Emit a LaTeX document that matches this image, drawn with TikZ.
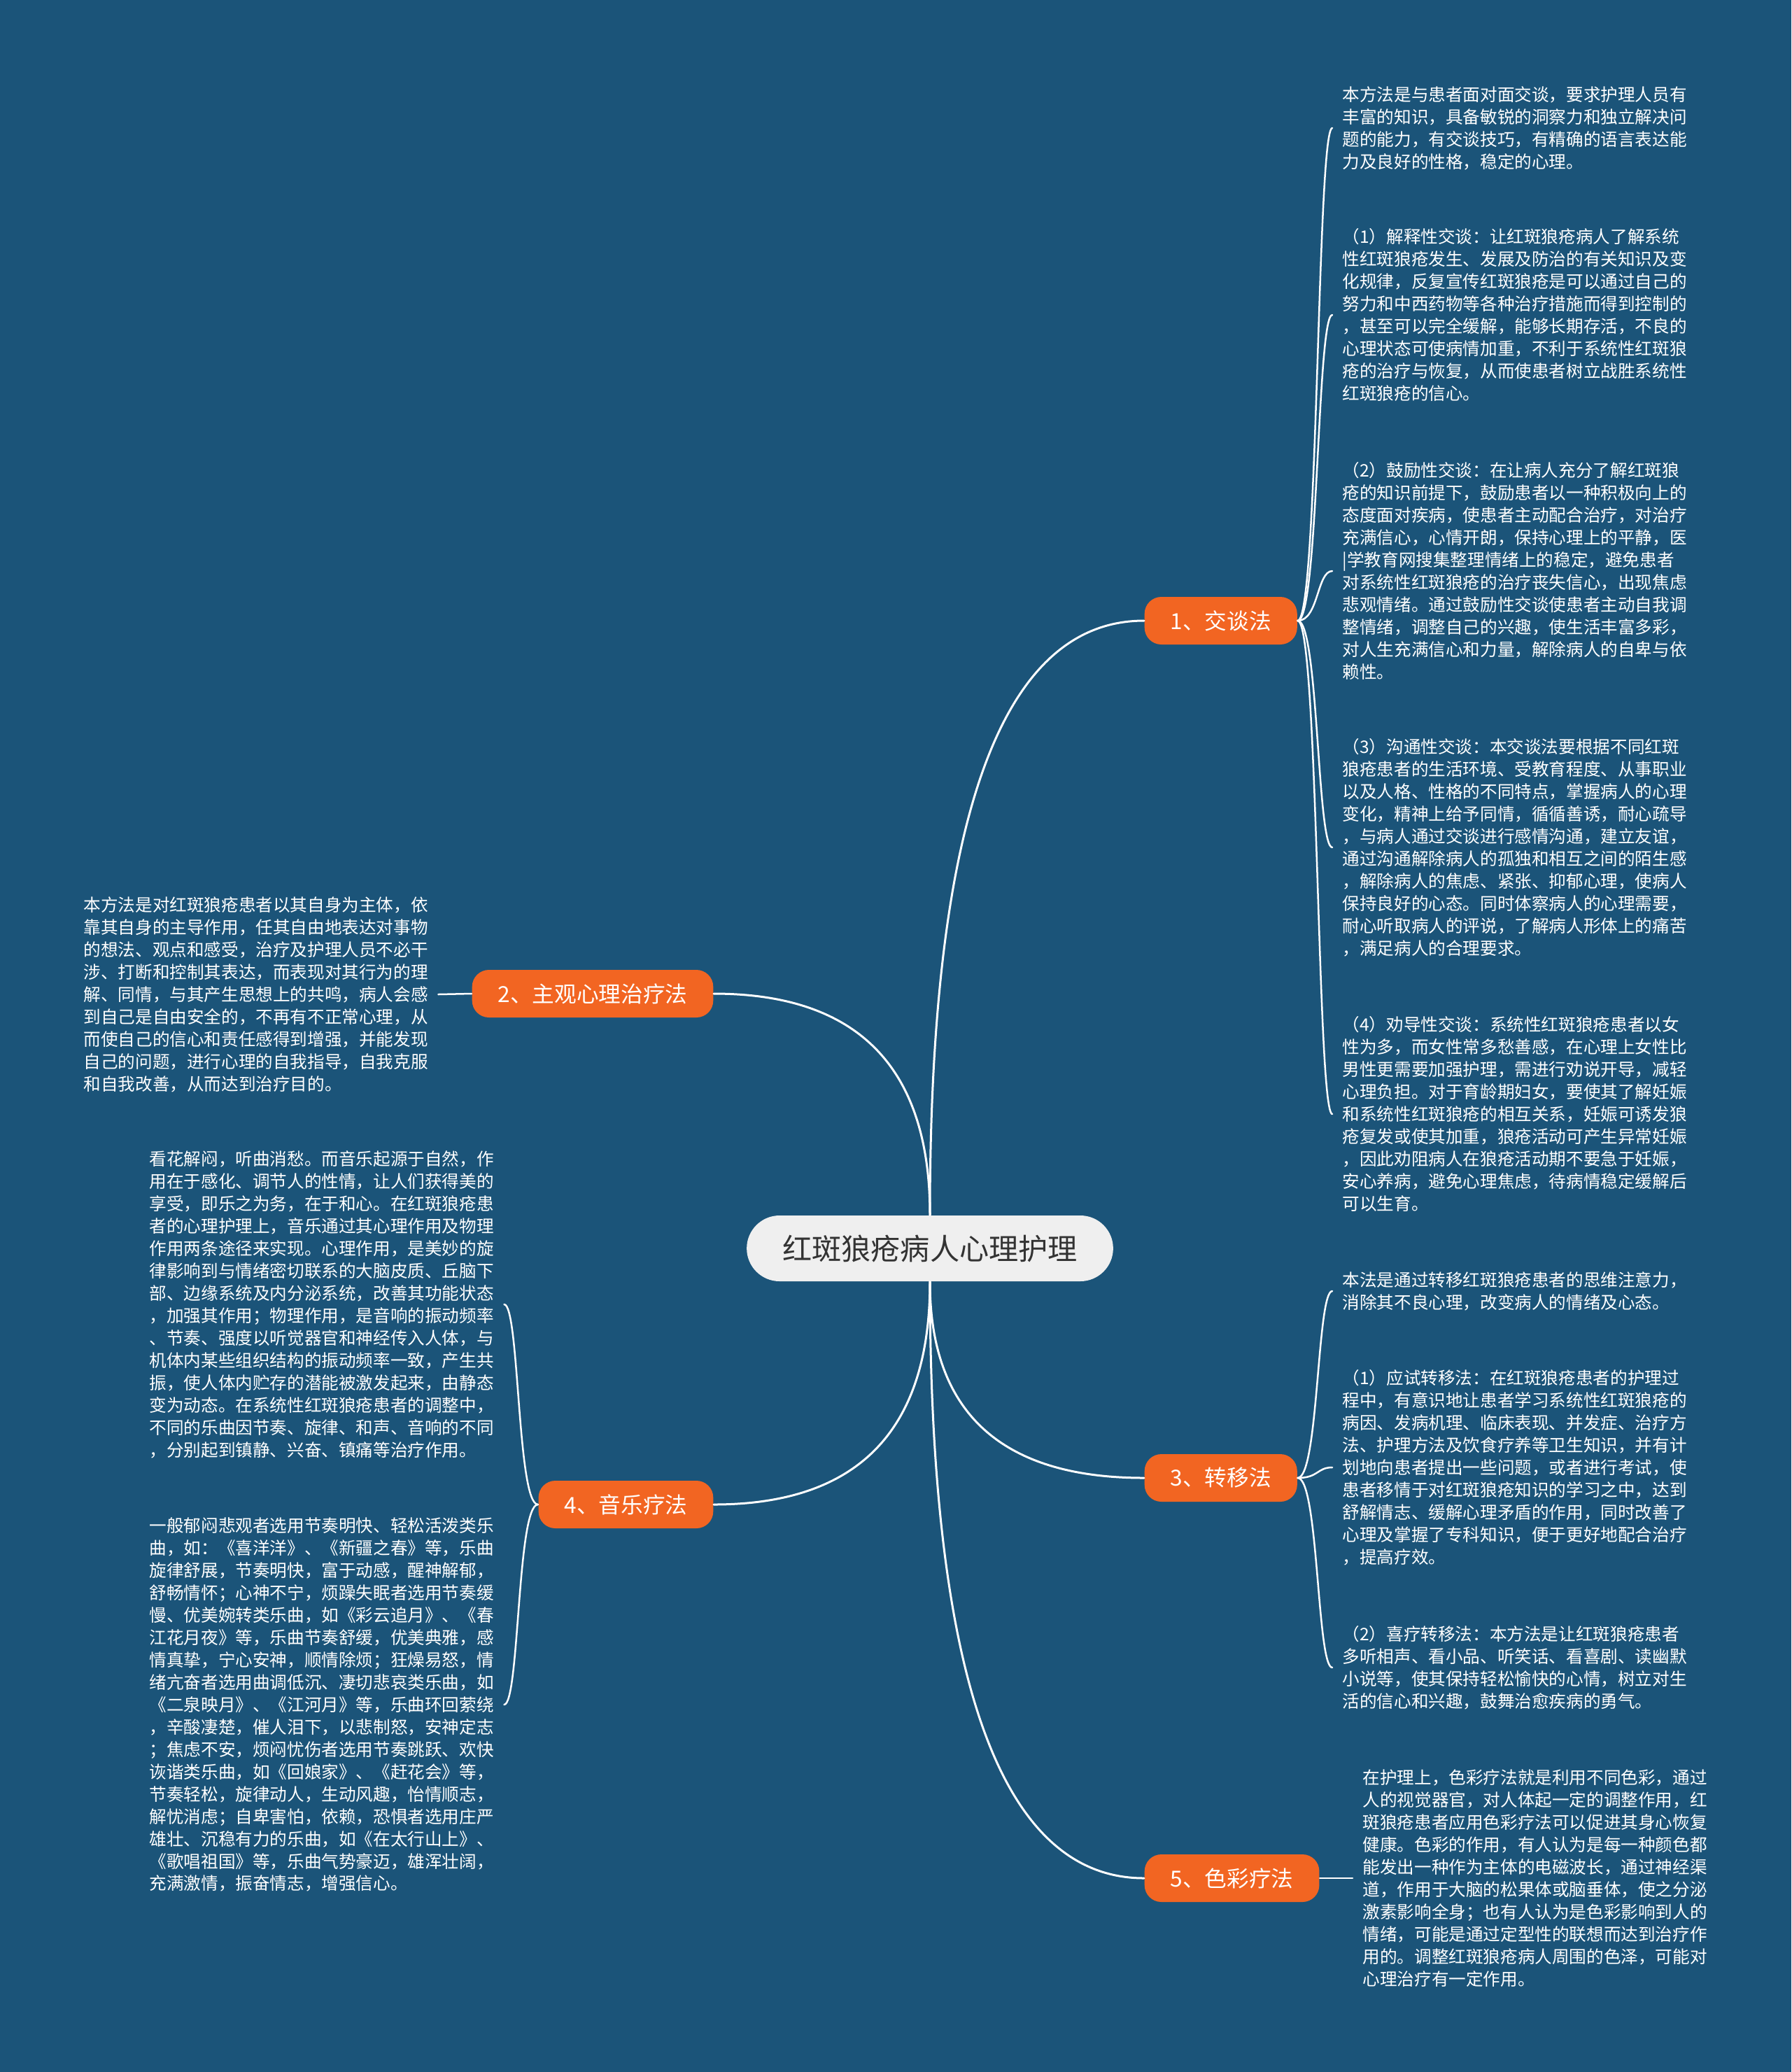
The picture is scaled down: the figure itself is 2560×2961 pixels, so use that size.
\documentclass[tikz,border=0pt]{standalone}
\usepackage{fontspec}
\setmainfont{Noto Sans CJK SC}
\usepackage{tikz}
\definecolor{bgblue}{RGB}{27,84,121}
\definecolor{branchorange}{RGB}{242,101,34}
\definecolor{rootgray}{RGB}{239,239,239}
\definecolor{rootink}{RGB}{51,51,51}

\begin{document}
\begin{tikzpicture}[x=0.1mm,y=-0.1mm,line cap=round]
  \tikzstyle{topic}=[fill=rootgray,text=rootink,rounded corners=4.7mm,minimum height=9.4mm,inner xsep=5.1mm,inner ysep=0pt,font=\fontsize{12pt}{14pt}\selectfont]
  \tikzstyle{branch}=[fill=branchorange,text=white,rounded corners=2.4mm,minimum height=6.8mm,inner xsep=3.7mm,inner ysep=0pt,font=\fontsize{9pt}{11pt}\selectfont]
  \tikzstyle{leaf}=[text=white,align=left,inner xsep=1.4mm,inner ysep=0pt,font=\fontsize{7pt}{9.1pt}\selectfont]
  \tikzstyle{link}=[draw=white,line width=0.3mm]
  \tikzstyle{twig}=[draw=white,line width=0.25mm]

  \useasboundingbox (0,0) rectangle (2560,2961);
  \fill[bgblue] (0,0) rectangle (2560,2961);

  % centre and main branches
  \node[topic]                (root) at (1329,1784) {红斑狼疮病人心理护理};
  \node[branch,anchor=west]   (b1)   at (1635,887)  {1、交谈法};
  \node[branch,anchor=east]   (b2)   at (1020,1420) {2、主观心理治疗法};
  \node[branch,anchor=west]   (b3)   at (1635,2112) {3、转移法};
  \node[branch,anchor=east]   (b4)   at (1020,2150) {4、音乐疗法};
  \node[branch,anchor=west]   (b5)   at (1635,2684) {5、色彩疗法};

  % 1、交谈法
  \node[leaf,anchor=west] (a0) at (1904,183) {本方法是与患者面对面交谈，要求护理人员有\\
丰富的知识，具备敏锐的洞察力和独立解决问\\
题的能力，有交谈技巧，有精确的语言表达能\\
力及良好的性格，稳定的心理。};
  \node[leaf,anchor=west] (a1) at (1904,450) {（1）解释性交谈：让红斑狼疮病人了解系统\\
性红斑狼疮发生、发展及防治的有关知识及变\\
化规律，反复宣传红斑狼疮是可以通过自己的\\
努力和中西药物等各种治疗措施而得到控制的\\
，甚至可以完全缓解，能够长期存活，不良的\\
心理状态可使病情加重，不利于系统性红斑狼\\
疮的治疗与恢复，从而使患者树立战胜系统性\\
红斑狼疮的信心。};
  \node[leaf,anchor=west] (a2) at (1904,816) {（2）鼓励性交谈：在让病人充分了解红斑狼\\
疮的知识前提下，鼓励患者以一种积极向上的\\
态度面对疾病，使患者主动配合治疗，对治疗\\
充满信心，心情开朗，保持心理上的平静，医\\
|学教育网搜集整理情绪上的稳定，避免患者\\
对系统性红斑狼疮的治疗丧失信心，出现焦虑\\
悲观情绪。通过鼓励性交谈使患者主动自我调\\
整情绪，调整自己的兴趣，使生活丰富多彩，\\
对人生充满信心和力量，解除病人的自卑与依\\
赖性。};
  \node[leaf,anchor=west] (a3) at (1904,1211) {（3）沟通性交谈：本交谈法要根据不同红斑\\
狼疮患者的生活环境、受教育程度、从事职业\\
以及人格、性格的不同特点，掌握病人的心理\\
变化，精神上给予同情，循循善诱，耐心疏导\\
，与病人通过交谈进行感情沟通，建立友谊，\\
通过沟通解除病人的孤独和相互之间的陌生感\\
，解除病人的焦虑、紧张、抑郁心理，使病人\\
保持良好的心态。同时体察病人的心理需要，\\
耐心听取病人的评说，了解病人形体上的痛苦\\
，满足病人的合理要求。};
  \node[leaf,anchor=west] (a4) at (1904,1592) {（4）劝导性交谈：系统性红斑狼疮患者以女\\
性为多，而女性常多愁善感，在心理上女性比\\
男性更需要加强护理，需进行劝说开导，减轻\\
心理负担。对于育龄期妇女，要使其了解妊娠\\
和系统性红斑狼疮的相互关系，妊娠可诱发狼\\
疮复发或使其加重，狼疮活动可产生异常妊娠\\
，因此劝阻病人在狼疮活动期不要急于妊娠，\\
安心养病，避免心理焦虑，待病情稳定缓解后\\
可以生育。};

  % 2、主观心理治疗法
  \node[leaf,anchor=west] (s0) at (105,1421) {本方法是对红斑狼疮患者以其自身为主体，依\\
靠其自身的主导作用，任其自由地表达对事物\\
的想法、观点和感受，治疗及护理人员不必干\\
涉、打断和控制其表达，而表现对其行为的理\\
解、同情，与其产生思想上的共鸣，病人会感\\
到自己是自由安全的，不再有不正常心理，从\\
而使自己的信心和责任感得到增强，并能发现\\
自己的问题，进行心理的自我指导，自我克服\\
和自我改善，从而达到治疗目的。};

  % 3、转移法
  \node[leaf,anchor=west] (c0) at (1904,1845) {本法是通过转移红斑狼疮患者的思维注意力，\\
消除其不良心理，改变病人的情绪及心态。};
  \node[leaf,anchor=west] (c1) at (1904,2097) {（1）应试转移法：在红斑狼疮患者的护理过\\
程中，有意识地让患者学习系统性红斑狼疮的\\
病因、发病机理、临床表现、并发症、治疗方\\
法、护理方法及饮食疗养等卫生知识，并有计\\
划地向患者提出一些问题，或者进行考试，使\\
患者移情于对红斑狼疮知识的学习之中，达到\\
舒解情志、缓解心理矛盾的作用，同时改善了\\
心理及掌握了专科知识，便于更好地配合治疗\\
，提高疗效。};
  \node[leaf,anchor=west] (c2) at (1904,2383) {（2）喜疗转移法：本方法是让红斑狼疮患者\\
多听相声、看小品、听笑话、看喜剧、读幽默\\
小说等，使其保持轻松愉快的心情，树立对生\\
活的信心和兴趣，鼓舞治愈疾病的勇气。};

  % 4、音乐疗法
  \node[leaf,anchor=west] (d1) at (199,1864) {看花解闷，听曲消愁。而音乐起源于自然，作\\
用在于感化、调节人的性情，让人们获得美的\\
享受，即乐之为务，在于和心。在红斑狼疮患\\
者的心理护理上，音乐通过其心理作用及物理\\
作用两条途径来实现。心理作用，是美妙的旋\\
律影响到与情绪密切联系的大脑皮质、丘脑下\\
部、边缘系统及内分泌系统，改善其功能状态\\
，加强其作用；物理作用，是音响的振动频率\\
、节奏、强度以听觉器官和神经传入人体，与\\
机体内某些组织结构的振动频率一致，产生共\\
振，使人体内贮存的潜能被激发起来，由静态\\
变为动态。在系统性红斑狼疮患者的调整中，\\
不同的乐曲因节奏、旋律、和声、音响的不同\\
，分别起到镇静、兴奋、镇痛等治疗作用。};
  \node[leaf,anchor=west] (d2) at (199,2436) {一般郁闷悲观者选用节奏明快、轻松活泼类乐\\
曲，如：《喜洋洋》、《新疆之春》等，乐曲\\
旋律舒展，节奏明快，富于动感，醒神解郁，\\
舒畅情怀；心神不宁，烦躁失眠者选用节奏缓\\
慢、优美婉转类乐曲，如《彩云追月》、《春\\
江花月夜》等，乐曲节奏舒缓，优美典雅，感\\
情真挚，宁心安神，顺情除烦；狂燥易怒，情\\
绪亢奋者选用曲调低沉、凄切悲哀类乐曲，如\\
《二泉映月》、《江河月》等，乐曲环回萦绕\\
，辛酸凄楚，催人泪下，以悲制怒，安神定志\\
；焦虑不安，烦闷忧伤者选用节奏跳跃、欢快\\
诙谐类乐曲，如《回娘家》、《赶花会》等，\\
节奏轻松，旋律动人，生动风趣，怡情顺志，\\
解忧消虑；自卑害怕，依赖，恐惧者选用庄严\\
雄壮、沉稳有力的乐曲，如《在太行山上》、\\
《歌唱祖国》等，乐曲气势豪迈，雄浑壮阔，\\
充满激情，振奋情志，增强信心。};

  % 5、色彩疗法
  \node[leaf,anchor=west] (e0) at (1933,2684) {在护理上，色彩疗法就是利用不同色彩，通过\\
人的视觉器官，对人体起一定的调整作用，红\\
斑狼疮患者应用色彩疗法可以促进其身心恢复\\
健康。色彩的作用，有人认为是每一种颜色都\\
能发出一种作为主体的电磁波长，通过神经渠\\
道，作用于大脑的松果体或脑垂体，使之分泌\\
激素影响全身；也有人认为是色彩影响到人的\\
情绪，可能是通过定型性的联想而达到治疗作\\
用的。调整红斑狼疮病人周围的色泽，可能对\\
心理治疗有一定作用。};

  % main links
  \draw[link] (root.north) .. controls +(0,-567) and +(-204,0) .. (b1.west);
  \draw[link] (root.north) .. controls +(0,-211) and +(206,0) .. (b2.east);
  \draw[link] (root.south) .. controls +(0,187) and +(-204,0) .. (b3.west);
  \draw[link] (root.south) .. controls +(0,213) and +(206,0) .. (b4.east);
  \draw[link] (root.south) .. controls +(0,569) and +(-204,0) .. (b5.west);

  % twigs to the texts
  \draw[twig] (b1.east) .. controls +(30,0) and +(-22,0) .. (a0.west);
  \draw[twig] (b1.east) .. controls +(30,0) and +(-22,0) .. (a1.west);
  \draw[twig] (b1.east) .. controls +(30,0) and +(-22,0) .. (a2.west);
  \draw[twig] (b1.east) .. controls +(30,0) and +(-22,0) .. (a3.west);
  \draw[twig] (b1.east) .. controls +(30,0) and +(-22,0) .. (a4.west);
  \draw[twig] (b2.west) -- (s0.east);
  \draw[twig] (b3.east) .. controls +(30,0) and +(-22,0) .. (c0.west);
  \draw[twig] (b3.east) .. controls +(30,0) and +(-22,0) .. (c1.west);
  \draw[twig] (b3.east) .. controls +(30,0) and +(-22,0) .. (c2.west);
  \draw[twig] (b4.west) .. controls +(-30,0) and +(22,0) .. (d1.east);
  \draw[twig] (b4.west) .. controls +(-30,0) and +(22,0) .. (d2.east);
  \draw[twig] (b5.east) -- (e0.west);
\end{tikzpicture}
\end{document}
